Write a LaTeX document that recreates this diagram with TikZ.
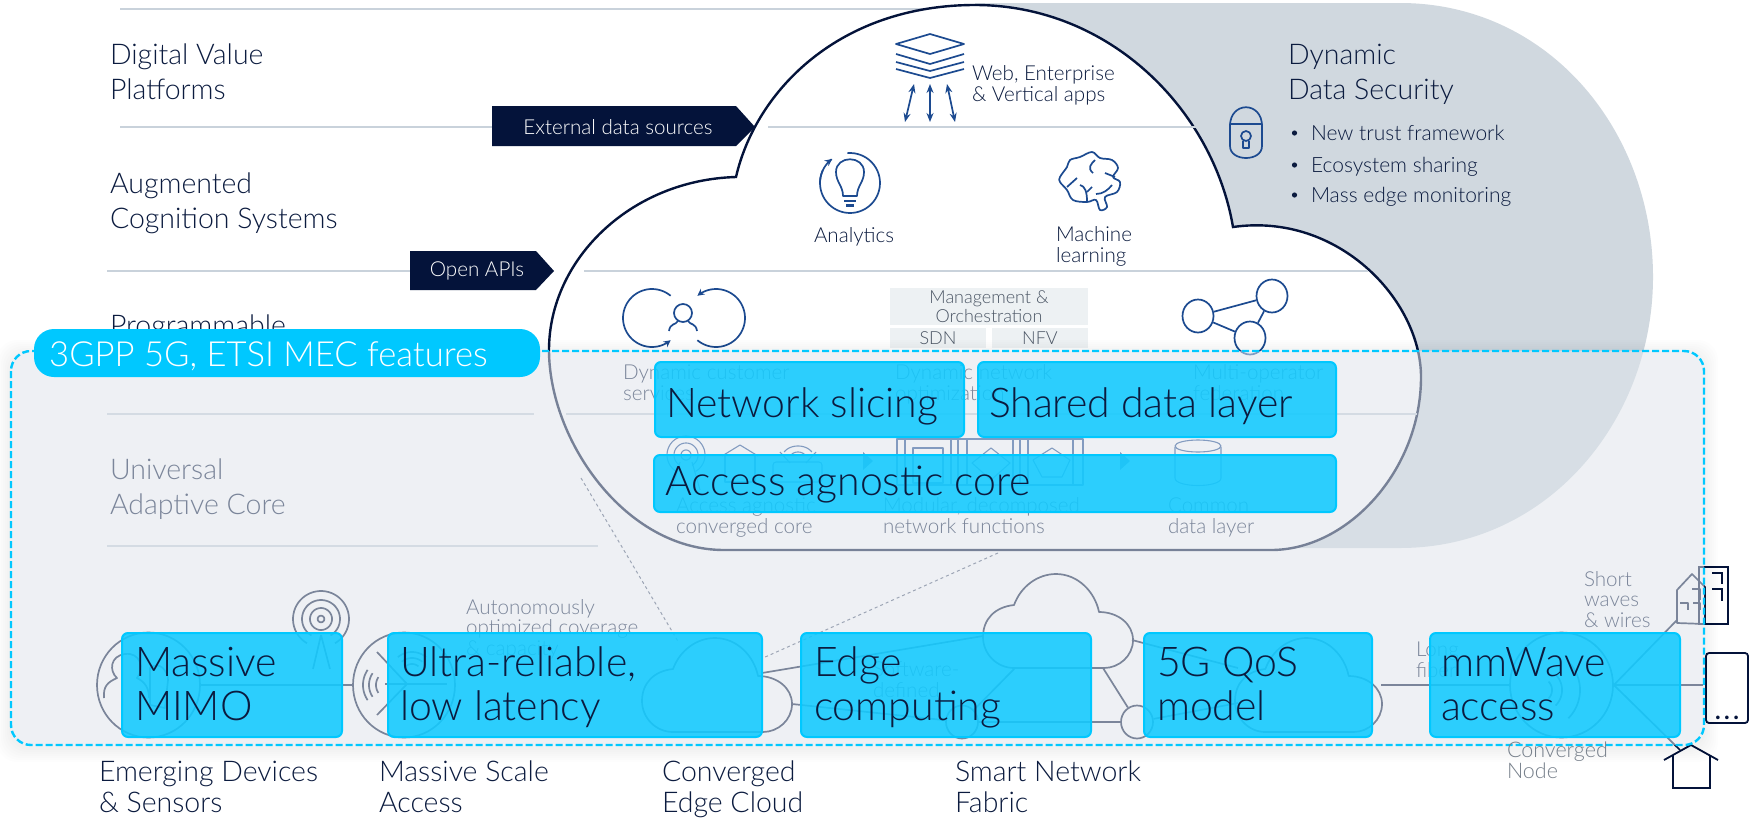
\documentclass[tikz,border=0pt]{standalone}
\usepackage{fontspec}
\setmainfont{Lato}[UprightFont=* Light]
\usetikzlibrary{arrows.meta,shapes.geometric}
\definecolor{navy}{HTML}{0B1B3F}
\definecolor{boxnavy}{HTML}{04133A}
\definecolor{iconblue}{HTML}{1C4A90}
\definecolor{rulegray}{HTML}{C9D2DB}
\definecolor{secgray}{HTML}{D0D8DF}
\definecolor{cyanb}{HTML}{00C8FF}
\definecolor{cyanf}{HTML}{12CAFF}
\definecolor{mgmt}{HTML}{EDF1F3}
\definecolor{veil}{HTML}{DFE4EB}
\definecolor{txtgray}{HTML}{4A5564}
\newcommand\arcd[6][]{\draw[#1] plot[domain=#5:#6,samples=48] ({#2+#4*cos(\x)},{#3+#4*sin(\x)});}
\newcommand\arce[7][]{\draw[#1] plot[domain=#6:#7,samples=48] ({#2+#4*cos(\x)},{#3+#5*sin(\x)});}
\tikzset{
 x=1pt,y=-1pt,
 hrule/.style={rulegray,line width=2pt},
 lab/.style={anchor=base west,inner sep=0pt,outer sep=0pt,align=left,text=navy},
 big/.style={lab,font=\fontsize{28.5}{35}\selectfont},
 biglow/.style={lab,font=\fontsize{28.5}{31}\selectfont},
 small/.style={lab,font=\fontsize{20.6}{20.5}\selectfont},
 bullettxt/.style={lab,font=\fontsize{21}{20}\selectfont},
 hugeb/.style={lab,font=\fontsize{41}{44}\selectfont},
 arrowbox/.style={fill=boxnavy,draw=none},
 arrowtxt/.style={text=white,inner sep=0pt,font=\fontsize{20.6}{22}\selectfont},
 ico/.style={iconblue,line width=1.7pt,line join=round},
 netl/.style={navy,line width=1.7pt,line join=round},
 thinicon/.style={iconblue,line width=1.1pt,line join=round},
 oval/.style={ellipse,draw=navy,line width=1.7pt,inner sep=0pt},
 cyanbox/.style={draw=cyanb,fill=cyanf,fill opacity=0.88,line width=2pt,rounded corners=6pt},
 mbox/.style={fill=mgmt,draw=none,inner sep=0pt,text=txtgray,align=center,font=\fontsize{18}{18.5}\selectfont},
 cloudic/.pic={\draw[netl] (0,63) .. controls (0,45) and (12,33) .. (31,31) .. controls (38,12) and (55,0) .. (73,0) .. controls (95,0) and (112,18) .. (116,38) .. controls (135,38) and (150,50) .. (150,66) .. controls (150,82) and (136,94) .. (121,94) -- (31,94) .. controls (14,94) and (0,80) .. (0,63) -- cycle;},
}
\begin{document}
\begin{tikzpicture}
\useasboundingbox (0,0) rectangle (1756,817);
\fill[white] (0,0) rectangle (1756,817);
% grey security section
\fill[secgray] (975,3) -- (1400,3) .. controls (1548,3) and (1653,130) .. (1653,277) .. controls (1653,420) and (1548,548) .. (1400,548) -- (975,548) -- cycle;
% rules left of the cloud
\draw[hrule] (120,9) -- (950,9);
\draw[hrule] (107,414) -- (534,414);
\draw[hrule] (107,546) -- (598,546);
% cloud
\draw[fill=white,draw=boxnavy,line width=2.4pt,line join=miter]
 (736,177) .. controls (756,90) and (840,5) .. (975,5)
 .. controls (1110,5) and (1213,110) .. (1233,227)
 .. controls (1338,212) and (1421,300) .. (1421,377)
 .. controls (1421,470) and (1348,550) .. (1271,550)
 -- (724,550)
 .. controls (625,550) and (549,440) .. (549,350)
 .. controls (549,260) and (630,180) .. (736,177) -- cycle;
% rules
\draw[hrule] (120,127) -- (492,127);
\draw[hrule] (768,127) -- (1196,127);
\draw[hrule] (107,271) -- (410,271);
\draw[hrule] (584,271) -- (1368,271);
\draw[hrule] (566,414) -- (1417,414);
% left titles
\node[big] (tDigital) at (110,99) {Digital Value\\Platforms};
\node[big] (tAug) at (110,228) {Augmented\\Cognition Systems};
\node[big] (tProg) at (110,335) {Programmable};
\node[big] (tUni) at (110,514) {Universal\\Adaptive Core};
% arrow boxes
\fill[arrowbox] (492,106) -- (736,106) -- (755,127) -- (736,146) -- (492,146) -- cycle;
\node[arrowtxt] (tExt) at (618,127) {External data sources};
\fill[arrowbox] (410,251) -- (536,251) -- (554,271) -- (536,290) -- (410,290) -- cycle;
\node[arrowtxt] (tApi) at (477,271) {Open APIs};
% stack icon
\draw[ico] (930,34) -- (964,44) -- (930,54) -- (896,44) -- cycle;
\draw[ico] (896,54) -- (930,64) -- (964,54);
\draw[ico] (896,62) -- (930,71) -- (964,62);
\draw[ico] (896,69) -- (930,78) -- (964,69);
\draw[ico,{Stealth[length=9pt,width=7pt]}-{Stealth[length=9pt,width=7pt]}] (914,84) -- (905,122);
\draw[ico,{Stealth[length=9pt,width=7pt]}-{Stealth[length=9pt,width=7pt]}] (930,84) -- (930,122);
\draw[ico,{Stealth[length=9pt,width=7pt]}-{Stealth[length=9pt,width=7pt]}] (947,84) -- (955,122);
\node[small] (tWeb) at (972,101) {Web, Enterprise\\\& Vertical apps};
% security
\node[big] (tDyn) at (1288,99) {Dynamic\\Data Security};
\draw[ico] (1230,126) .. controls (1230,101) and (1262,101) .. (1262,126);
\draw[ico] (1230,124) -- (1262,124) -- (1262,146) .. controls (1262,162) and (1230,162) .. (1230,146) -- cycle;
\draw[ico] (1246,136) circle[radius=5];
\draw[ico] (1243,141) -- (1243,148) -- (1249,148) -- (1249,141);
\foreach \yy/\nm/\tx in {140/a/New trust framework,172/b/Ecosystem sharing,202/c/Mass edge monitoring}{
 \fill[navy] (1294.5,\yy-7) circle[radius=2.6];
 \node[bullettxt] (tSec\nm) at (1311,\yy) {\tx};
}
% analytics icon
\arcd[ico]{850}{183}{30}{-95}{205}
\arcd[ico,-{Stealth[length=7pt,width=7pt]}]{850}{183}{30}{178}{233}
\draw[ico] (843,196) .. controls (843,186) and (836,182) .. (836,172) .. controls (836,155) and (864,155) .. (864,172) .. controls (864,182) and (857,186) .. (857,196) -- cycle;
\draw[ico] (844,201) -- (856,201);
\fill[iconblue] (846,204) rectangle (854,207);
\node[small] (tAna) at (814,242) {Analytics};
% brain
\draw[ico] plot[smooth cycle,tension=0.6] coordinates {(1060,177) (1067,167) (1070,160) (1080,157) (1092,152) (1100,158) (1112,160) (1118,168) (1113,177) (1120,182) (1117,192) (1105,197) (1107,207) (1100,210) (1096,200) (1087,202) (1073,200) (1067,190) (1060,182)};
\draw[ico] (1095,160) .. controls (1091,164) and (1087,168) .. (1093,173);
\draw[ico] (1105,173) -- (1115,177);
\draw[ico] (1067,187) -- (1077,178);
\draw[ico] (1080,185) .. controls (1085,186) and (1087,192) .. (1087,201);
\draw[ico] (1092,187) -- (1087,192);
\draw[ico] (1096,194) .. controls (1103,194) and (1108,190) .. (1112,185);
\node[small] (tMl) at (1056,262) {Machine\\learning};
% management block
\node[mbox,minimum width=198pt,minimum height=37pt] (mg) at (989,306.5) {Management \&\\Orchestration};
\node[mbox,minimum width=96pt,minimum height=20pt] (sdn) at (938,338) {SDN};
\node[mbox,minimum width=96pt,minimum height=20pt] (nfv) at (1040,338) {NFV};
% customer icon
\arcd[ico,-{Stealth[length=7pt,width=7pt]}]{652}{318}{29}{-50}{-310}
\arcd[ico,-{Stealth[length=7pt,width=7pt]}]{716}{318}{29}{130}{-130}
\draw[ico] (683,313) circle[x radius=9,y radius=9];
\draw[ico] (669,331) .. controls (670,323) and (676,325) .. (678,321);
\draw[ico] (697,331) .. controls (696,323) and (690,325) .. (688,321);
% multi-operator icon
\node[oval,draw=iconblue,minimum width=31pt,minimum height=33pt] (gA) at (1198,316) {};
\node[oval,draw=iconblue,minimum width=31pt,minimum height=33pt] (gB) at (1272,296) {};
\node[oval,draw=iconblue,minimum width=31pt,minimum height=33pt] (gC) at (1250,338) {};
\draw[ico] (gA) -- (gB); \draw[ico] (gB) -- (gC); \draw[ico] (gA) -- (gC);
% labels row 3
\node[small] (tCust) at (623,400) {Dynamic customer\\services};
\node[small] (tNetOpt) at (895,400) {Dynamic network\\optimization};
\node[small] (tMulti) at (1193,400) {Multi-operator\\federation};
% row 4 icons
\arcd[thinicon]{686}{455}{19}{120}{420}
\arcd[thinicon]{686}{455}{12}{120}{420}
\arcd[thinicon]{686}{455}{5}{0}{360}
\draw[thinicon] (680,462) -- (672,490); \draw[thinicon] (692,462) -- (700,490);
\draw[thinicon] (722,456) -- (740,445) -- (758,456); \draw[thinicon] (725,455) -- (725,482) -- (755,482) -- (755,455);
\draw[thinicon,rounded corners=3pt] (773,462) rectangle (822,482);
\arce[thinicon]{798}{458}{16}{12}{-150}{-30}
\arce[thinicon]{798}{458}{8}{6}{-150}{-30}
\draw[thinicon] (780,452) -- (790,463); \draw[thinicon] (816,452) -- (806,463);
\fill[iconblue] (863,452) -- (873,461) -- (863,470) -- cycle;
\draw[thinicon] (897,439) rectangle (958,485); \draw[thinicon] (905,439) -- (905,485); \draw[thinicon] (951,439) -- (951,485);
\draw[thinicon] (913,448) rectangle (943,483);
\draw[thinicon] (958,439) rectangle (1020,485); \draw[thinicon] (967,439) -- (967,485); \draw[thinicon] (1013,439) -- (1013,485);
\draw[thinicon] (991,448) -- (1010,463) -- (991,480) -- (972,463) -- cycle;
\draw[thinicon] (1020,439) rectangle (1083,485); \draw[thinicon] (1028,439) -- (1028,485); \draw[thinicon] (1073,439) -- (1073,485);
\draw[thinicon] (1052,448) -- (1070,460) -- (1062,477) -- (1042,477) -- (1033,460) -- cycle;
\fill[iconblue] (1120,452) -- (1130,461) -- (1120,470) -- cycle;
\draw[thinicon] (1175,447) -- (1175,478) .. controls (1175,488) and (1221,488) .. (1221,478) -- (1221,447);
\draw[thinicon] (1198,446) circle[x radius=23,y radius=6];
\node[small] (tAcc) at (676,533) {Access agnostic\\converged core};
\node[small] (tMod) at (883,533) {Modular, decomposed\\network functions};
\node[small] (tCom) at (1168,533) {Common\\data layer};
% access network
\node[oval,minimum width=103pt,minimum height=105pt] (ovA) at (148.5,685) {};
\node[oval,minimum width=102pt,minimum height=105pt] (ovB) at (404,685) {};
\node[oval,minimum width=103pt,minimum height=105pt] (ovC) at (1561.5,685) {};
\node[oval,minimum width=32pt,minimum height=33pt] (ovL) at (962,722) {};
\node[oval,minimum width=32pt,minimum height=33pt] (ovR) at (1137,722) {};
\draw[netl] (ovA) -- (ovB);
\arcd[netl]{321}{619}{28}{120}{420}
\arcd[netl]{321}{619}{19}{120}{420}
\arcd[netl]{321}{619}{11}{0}{360}
\arcd[netl]{321}{619}{3.3}{0}{360}
\draw[netl] (321,635) -- (313,669); \draw[netl] (321,635) -- (330,669);
\draw[netl] (385,684) -- (447,684);
\draw[netl] (377,652) -- (407,684) -- (377,715);
\arcd[netl]{390}{685}{27}{146}{214}
\arcd[netl]{390}{685}{21}{146}{214}
\arcd[netl]{390}{685}{14}{146}{214}
\foreach \r in {10,16,22}{ \arcd[netl]{412}{674}{\r}{-130}{-50} }
% person and hand in the first oval
\draw[netl] (104,698) .. controls (103,686) and (108,682) .. (117,678) .. controls (109,671) and (110,656) .. (125,654) .. controls (140,652) and (145,668) .. (137,678) .. controls (145,682) and (149,688) .. (149,698);
\draw[netl] (150,705) -- (150,668) .. controls (160,660) and (168,672) .. (168,680) -- (165,708) -- cycle;
\pic at (642,638) {cloudic};
\pic at (983,574) {cloudic};
\pic[xscale=0.98] at (1235,638) {cloudic};
\coordinate (ecTop) at (762,673); \coordinate (ecBot) at (792,704);
\coordinate (fcLeft) at (983,636); \coordinate (fcLB) at (1015,668); \coordinate (fcRB) at (1103,668); \coordinate (fcR) at (1132,640);
\coordinate (rcTop) at (1238,668); \coordinate (rcBot) at (1238,703); \coordinate (rcR) at (1381,685);
\coordinate (cTall) at (1677,620); \coordinate (cEnd) at (1703,685); \coordinate (cHouse) at (1680,750);
\draw[netl] (ecTop) -- (fcLeft);
\draw[netl] (ecBot) -- (ovL);
\draw[netl] (fcLB) -- (ovL);
\draw[netl] (fcRB) -- (ovR);
\draw[netl] (ovL) -- (ovR);
\draw[netl] (fcR) -- (rcTop);
\draw[netl] (ovR) -- (rcBot);
\draw[netl] (rcR) -- (ovC);
\draw[netl] (ovC.east) -- (cEnd);
\draw[netl] (ovC.east) -- (cTall);
\draw[netl] (ovC.east) -- (cHouse);
\arcd[netl]{1540}{690}{12}{-45}{45}
\arcd[netl]{1540}{690}{22}{-45}{45}
\arcd[netl]{1540}{690}{40}{-45}{45}
% dashed guides
\coordinate (dA) at (581,478); \coordinate (dB) at (679,643); \coordinate (dC) at (998,553); \coordinate (dD) at (763,658);
\draw[navy!70,line width=1pt,dashed] (dA) -- (dB);
\draw[navy!70,line width=1pt,dashed] (dC) -- (dD);
% texts under veil
\node[small] (tAuto) at (466,655) {Autonomously\\optimized coverage\\\& capacity};
\node[small] (tSw) at (873,697) {Software-\\defined};
\node[small] (tLong) at (1416,677) {Long\\fiber};
\node[small] (tShort) at (1584,627) {Short\\waves\\\& wires};
% small building
\draw[netl] (1677,623) -- (1677,590) -- (1692,574) -- (1705,587) -- (1705,624) -- cycle;
\draw[netl] (1692,589) -- (1700,589) -- (1700,600);
\draw[netl] (1680,603) -- (1688,603) -- (1688,610); \draw[netl] (1693,603) -- (1700,603) -- (1700,610);
% right devices
\draw[boxnavy,line width=1.8pt] (1699,567) rectangle (1728,624);
\draw[boxnavy,line width=1.8pt] (1712,573) -- (1722,573) -- (1722,584);
\draw[boxnavy,line width=1.8pt] (1712,589) -- (1722,589) -- (1722,601);
\draw[boxnavy,line width=1.8pt,rounded corners=3pt] (1706,653) rectangle (1748,723);
\node[inner sep=0pt,text=boxnavy,font=\fontsize{26}{26}\bfseries\selectfont,anchor=base] (tDots) at (1727,719) {.\hspace{3pt}.\hspace{3pt}.};
\draw[boxnavy,line width=1.8pt,line join=miter] (1664,760) -- (1691,745) -- (1718,760);
\draw[boxnavy,line width=1.8pt] (1673,755) -- (1673,788) -- (1710,788) -- (1710,755);
% veil shadow
\foreach \e in {2,4,...,14}{
 \fill[black,fill opacity=0.006,even odd rule,rounded corners=20pt] (11-\e,351-\e+3) rectangle (1704+\e,745+\e+3) (11,351) rectangle (1704,745);
}
% veil
\draw[fill=veil,fill opacity=0.53,draw=cyanb,line width=2.4pt,dash pattern=on 7pt off 3pt,rounded corners=20pt] (11,351) rectangle (1704,745);
% pill
\draw[fill=cyanb,draw=none,rounded corners=20pt] (34,329) rectangle (540,377);
\node[anchor=base west,inner sep=0pt,text=white,font=\fontsize{34.6}{36}\selectfont] (tPill) at (49,366) {3GPP 5G, ETSI MEC features};
% cyan boxes
\draw[cyanbox] (655,362) rectangle (964,437);
\node[hugeb] (bNet) at (666,417) {Network slicing};
\draw[cyanbox] (978,362) rectangle (1336,437);
\node[hugeb] (bSha) at (989,417) {Shared data layer};
\draw[cyanbox] (654,455) rectangle (1336,512);
\node[hugeb] (bAcc) at (665,495) {Access agnostic core};
\draw[cyanbox] (122,633) rectangle (342,737);
\node[hugeb] (bMim) at (135,720) {Massive\\MIMO};
\draw[cyanbox] (388,633) rectangle (762,737);
\node[hugeb] (bUlt) at (400,720) {Ultra-reliable,\\low latency};
\draw[cyanbox] (801,633) rectangle (1091,737);
\node[hugeb] (bEdg) at (814,720) {Edge\\computing};
\draw[cyanbox] (1144,633) rectangle (1372,737);
\node[hugeb] (bQos) at (1157,720) {5G QoS\\model};
\draw[cyanbox] (1430,633) rectangle (1680,737);
\node[hugeb] (bMmw) at (1441,720) {mmWave\\access};
% bottom labels
\node[biglow] (lEm) at (99,812) {Emerging Devices\\\& Sensors};
\node[biglow] (lMa) at (379,812) {Massive Scale\\Access};
\node[biglow] (lCo) at (662,812) {Converged\\Edge Cloud};
\node[biglow] (lSm) at (955,812) {Smart Network\\Fabric};
\node[lab,text=txtgray!75,font=\fontsize{21.5}{20.5}\selectfont] (lNode) at (1507,778) {Converged\\Node};
\end{tikzpicture}
\end{document}
